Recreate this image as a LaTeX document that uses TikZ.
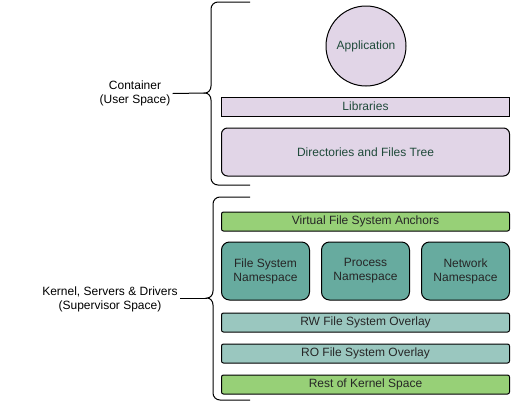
\documentclass[tikz,border=0pt]{standalone}
\usepackage{fontspec}
\setmainfont{Liberation Sans}
\usepackage{xcolor}
\usepackage{tikz}
\usetikzlibrary{arrows.meta, positioning}

\definecolor{userfill}{HTML}{E1D5E7}
\definecolor{vfsfill}{HTML}{97D077}
\definecolor{nsfill}{HTML}{67AB9F}
\definecolor{overlayfill}{HTML}{9AC7BF}
\definecolor{usertext}{HTML}{1F4A3A}

\begin{document}
\begin{tikzpicture}[
    x=1pt, y=1pt,
    font=\fontsize{12}{14}\selectfont,
    layer/.style={rectangle, draw, line width=1pt, minimum width=288pt, minimum height=19pt, inner sep=0pt, text=black!85},
    userlayer/.style={layer, fill=userfill, text=usertext},
    nsbox/.style={rectangle, draw, line width=1pt, rounded corners=8pt, fill=nsfill, minimum width=88pt, minimum height=58pt, inner sep=0pt, align=center, text=black!85},
    brace/.style={draw, line width=1pt},
    spacelabel/.style={align=center, inner sep=2pt},
    node distance=11pt
]
\useasboundingbox (0,0) rectangle (511,-402);

% Container (user space)
\node[circle, draw, line width=1pt, fill=userfill, text=usertext, minimum size=80pt, inner sep=0pt] (app) at (366,-46) {Application};
\node[userlayer] (libs) at (365.5,-106.5) {Libraries};
\node[userlayer, rounded corners=6pt, minimum height=48pt, below=11pt of libs] (tree) {Directories and Files Tree};

% Kernel (supervisor space)
\node[layer, rounded corners=2pt, fill=vfsfill, below=35pt of tree] (vfs) {Virtual File System Anchors};
\node[nsbox, below=10pt of vfs.south west, anchor=north west] (fsns) {File System\\Namespace};
\node[nsbox, right=11pt of fsns] (procns) {Process\\Namespace};
\node[nsbox, right=11pt of procns] (netns) {Network\\Namespace};
\node[layer, rounded corners=2pt, fill=overlayfill, below=12pt of fsns.south west, anchor=north west] (rw) {RW File System Overlay};
\node[layer, rounded corners=2pt, fill=overlayfill, below=of rw] (ro) {RO File System Overlay};
\node[layer, rounded corners=2pt, fill=vfsfill, below=of ro] (rest) {Rest of Kernel Space};

% Braces
\draw[brace] (250,-2) -- (218,-2) to[out=180,in=90] (211,-9) -- (211,-86)
    to[out=-90,in=0] (205,-93) coordinate (usertip)
    to[out=0,in=90] (211,-100) -- (211,-178) to[out=-90,in=180] (218,-185) -- (250,-185);
\draw[brace] (250,-197) -- (220,-197) to[out=180,in=90] (213,-204) -- (213,-291)
    to[out=-90,in=0] (207,-298) coordinate (kerneltip)
    to[out=0,in=90] (213,-305) -- (213,-393) to[out=-90,in=180] (220,-400) -- (250,-400);

% Labels
\node[spacelabel] (userlabel) at (135,-93.5) {Container\\(User Space)};
\node[spacelabel] (kernellabel) at (110,-299.5) {Kernel, Servers \& Drivers\\(Supervisor Space)};
\draw[line width=1pt] (userlabel.east) -- (usertip);
\draw[line width=1pt] (kernellabel.east |- kerneltip) -- (kerneltip);

\end{tikzpicture}
\end{document}
